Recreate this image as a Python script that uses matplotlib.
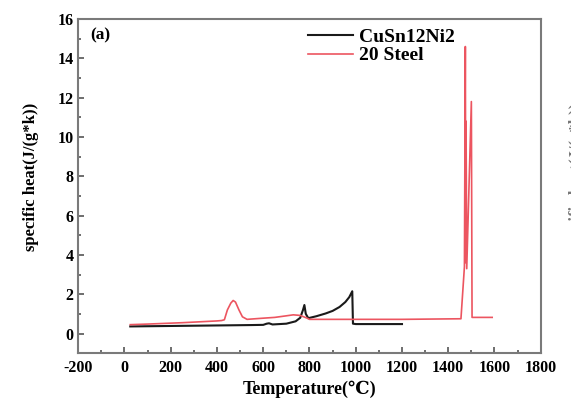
import numpy as np
import matplotlib.pyplot as plt
from matplotlib.ticker import MultipleLocator

plt.rcParams['font.family'] = 'Liberation Serif'
plt.rcParams['font.weight'] = 'bold'
plt.rcParams['axes.unicode_minus'] = False

# Specific heat curves
T_cusn = [25, 100, 250, 400, 550, 600, 615, 625, 640, 700, 740, 760, 772, 778,
          784, 795, 830, 870, 900, 930, 955, 972, 985, 988, 1000, 1100, 1200]
cp_cusn = [0.36, 0.37, 0.39, 0.41, 0.43, 0.44, 0.5, 0.52, 0.46, 0.5, 0.62,
           0.8, 1.2, 1.45, 1.0, 0.78, 0.88, 1.02, 1.15, 1.35, 1.6, 1.85, 2.15,
           0.5, 0.48, 0.48, 0.48]

T_steel = [25, 100, 250, 400, 420, 432, 445, 460, 470, 480, 495, 510, 530,
           600, 650, 700, 730, 760, 790, 800, 1000, 1200, 1455, 1470, 1474,
           1476, 1477, 1480, 1500, 1503, 1590]
cp_steel = [0.45, 0.48, 0.55, 0.64, 0.66, 0.7, 1.2, 1.55, 1.68, 1.6, 1.2,
            0.85, 0.72, 0.78, 0.82, 0.9, 0.95, 0.92, 0.78, 0.72, 0.72, 0.72,
            0.75, 3.4, 14.6, 3.6, 10.8, 3.3, 11.8, 0.82, 0.82]

series_names = ['CuSn12Ni2', '20 Steel']

fig = plt.figure(figsize=(5.71, 4.05), dpi=100)
ax = fig.add_axes([0.137, 0.128, 0.81, 0.825])

ax.plot(T_cusn, cp_cusn, color='#1a1a1a', lw=1.5, label=series_names[0])
ax.plot(T_steel, cp_steel, color='#ec5560', lw=1.2, label=series_names[1])

ax.set_xlim(-200, 1800)
ax.set_ylim(-1, 16)
ax.xaxis.set_major_locator(MultipleLocator(200))
ax.xaxis.set_minor_locator(MultipleLocator(100))
ax.yaxis.set_major_locator(MultipleLocator(2))
ax.yaxis.set_minor_locator(MultipleLocator(1))
ax.tick_params(which='both', direction='in', colors='#555555', labelcolor='black',
               labelsize=11.5, width=1.2)
ax.tick_params(which='major', length=4)
ax.tick_params(which='minor', length=2)
ax.tick_params(axis='x', pad=5)
for lab in ax.get_xticklabels() + ax.get_yticklabels():
    lab.set_fontweight('bold')
for sp in ax.spines.values():
    sp.set_color('#7a7a7a')
    sp.set_linewidth(1.5)

ax.set_xlabel('Temperature(\u2103)', fontsize=13, fontweight='bold', labelpad=3,
              family=['Liberation Serif', 'DejaVu Serif'])
ax.set_ylabel('specific heat(J/(g*k))', fontsize=12, fontweight='bold')
ax.yaxis.set_label_coords(-0.085, 0.527)
ax.text(0.026, 0.975, '(a)', transform=ax.transAxes, fontsize=12.5,
        fontweight='bold', va='top')

leg = ax.legend(loc='upper left', bbox_to_anchor=(0.46, 1.025), frameon=False,
                handlelength=2.3, handletextpad=0.3, labelspacing=0.05,
                prop={'weight': 'bold', 'size': 14})

# Edge of the neighbouring panel's axis label
fig.text(0.996, 0.563, 'specific heat(J/(g*k))', rotation=90, ha='left',
         va='center', fontsize=12, fontweight='bold', color='#777777')

fig.savefig('out.png', dpi=100)
